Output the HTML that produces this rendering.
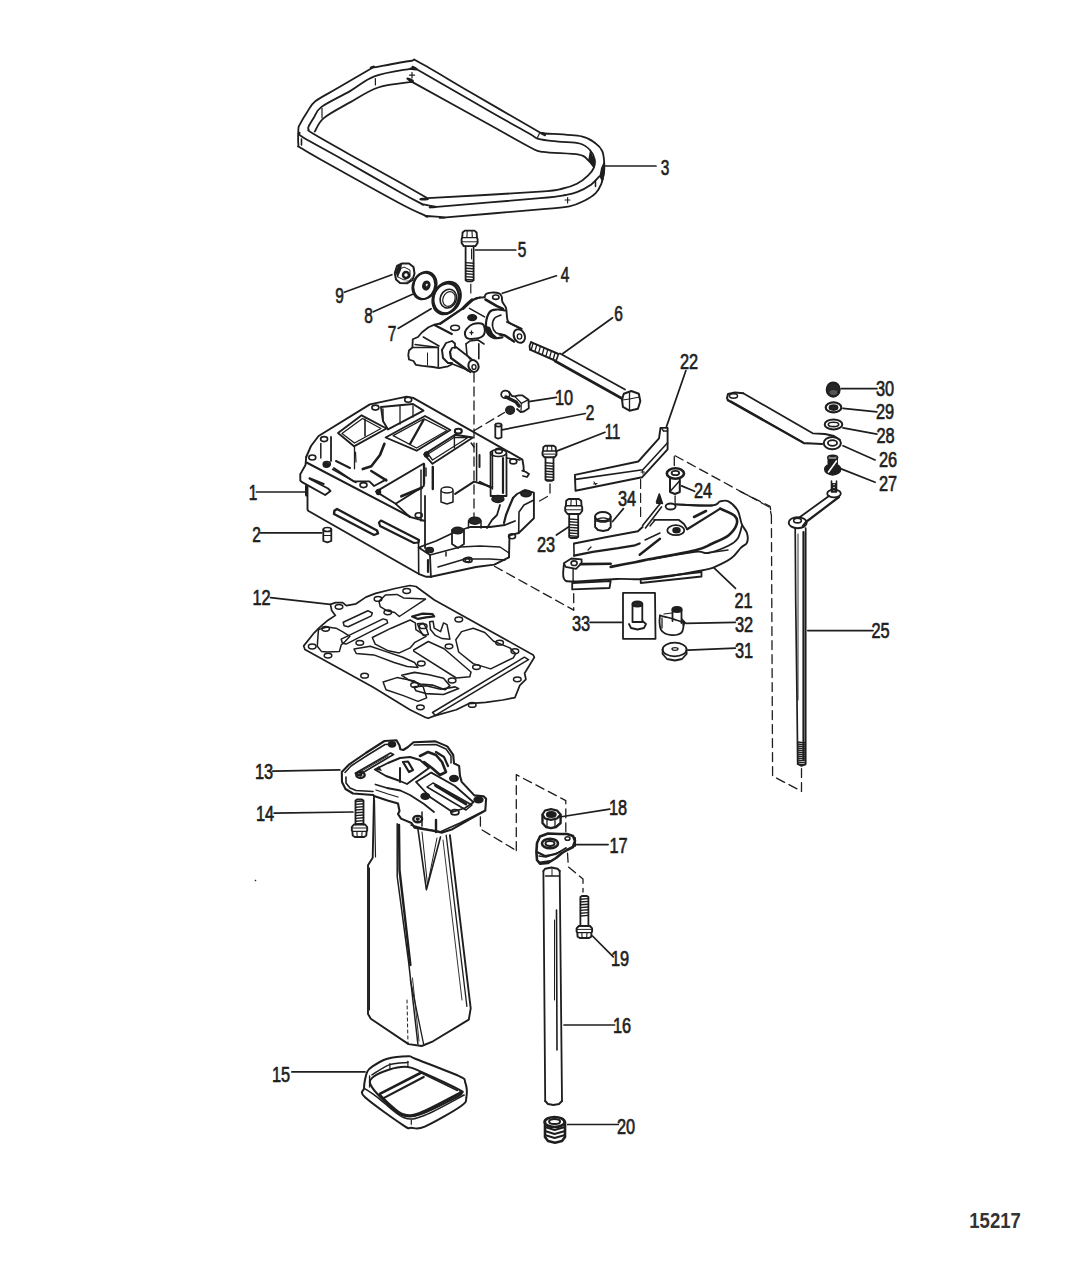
<!DOCTYPE html>
<html><head><meta charset="utf-8"><style>
html,body{margin:0;padding:0;background:#fff;}
svg{display:block;}
text.b{font-weight:bold;fill:#333;stroke:none;}
text{font-family:"Liberation Sans",sans-serif;font-weight:normal;fill:#1e1e1e;stroke:#1e1e1e;stroke-width:0.7px;}
</style></head><body>
<svg width="1066" height="1275" viewBox="0 0 1066 1275">
<g fill="none" stroke="#1e1e1e" stroke-linejoin="round" stroke-linecap="round">
<path d="M410.0,61.0 C417.8,60.1 409.5,57.3 419.5,62.5 C429.5,67.7 449.9,80.3 470.0,92.0 C490.1,103.7 528.3,125.8 540.0,132.5 C551.7,139.2 539.2,132.3 540.0,132.5 C540.8,132.7 544.2,133.3 545.0,133.5 C545.8,133.7 538.9,133.0 545.0,133.5 C551.1,134.0 573.1,134.7 581.6,136.4 C590.1,138.1 592.3,141.1 595.7,143.5 C599.1,145.9 600.8,148.0 602.2,151.0 C603.6,154.0 603.8,157.7 604.1,161.3 C604.4,164.9 604.5,168.8 604.0,172.5 C603.5,176.2 602.7,180.4 601.3,183.8 C599.9,187.2 598.5,190.4 595.7,193.2 C592.9,196.0 588.8,198.5 584.4,200.7 C580.0,202.9 576.8,204.9 569.4,206.3 C562.0,207.8 560.6,207.6 540.0,209.4 C519.4,211.2 461.7,216.0 446.0,217.3 C430.3,218.6 449.3,217.5 446.0,217.3 C442.7,217.1 429.6,216.2 426.3,216.0 C423.0,215.8 430.7,218.1 426.3,216.0 C421.9,213.9 417.5,212.8 400.0,203.5 C382.5,194.2 338.1,169.3 321.5,160.0 C304.9,150.7 304.0,149.9 300.1,147.4 C296.2,144.9 298.7,148.1 298.4,145.1 C298.1,142.1 298.2,132.8 298.4,129.4 C298.6,126.0 298.2,127.7 299.6,124.9 C301.0,122.1 304.3,116.4 306.9,112.5 C309.5,108.6 310.2,105.3 315.3,101.3 C320.4,97.3 327.8,93.9 337.3,88.3 C346.8,82.7 366.6,71.2 372.5,67.8 C378.4,64.4 366.2,68.9 372.5,67.8 C378.8,66.7 402.2,61.9 410.0,61.0 Z" stroke-width="1.8" />
<path d="M410.0,68.8 C415.9,67.5 408.7,68.6 410.0,68.8 C411.3,69.0 416.3,69.5 417.6,69.7 C418.9,69.9 405.5,62.7 417.6,69.7 C429.7,76.7 471.3,100.8 490.0,111.5 C508.7,122.2 521.9,129.4 530.0,134.0 C538.1,138.6 533.7,137.5 538.4,138.8 C543.1,140.1 551.2,140.8 558.1,141.6 C565.0,142.4 574.4,142.1 579.7,143.5 C585.0,144.9 587.5,147.3 590.0,150.0 C592.5,152.7 594.1,156.4 594.7,159.4 C595.3,162.4 594.9,165.2 593.8,167.8 C592.7,170.5 591.0,172.6 588.2,175.3 C585.4,178.0 581.1,181.6 576.9,183.8 C572.7,186.0 568.9,187.2 562.8,188.5 C556.6,189.8 562.5,190.1 540.0,191.7 C517.5,193.3 446.3,197.1 427.6,198.2 C408.9,199.3 432.2,200.8 427.6,198.2 C423.0,195.6 412.9,189.8 400.0,182.5 C387.1,175.2 364.6,162.9 350.0,154.7 C335.4,146.5 319.4,137.5 312.5,133.3 C305.6,129.1 309.2,130.5 308.6,129.4 C308.0,128.3 307.8,128.5 308.6,126.6 C309.4,124.7 311.5,121.4 313.6,118.1 C315.8,114.8 315.4,111.4 321.5,106.9 C327.6,102.4 341.2,96.2 350.0,91.1 C358.8,86.0 364.4,80.0 374.4,76.3 C384.4,72.6 404.1,70.0 410.0,68.8 Z" stroke-width="1.8" />
<path d="M314.8,131.6 C316.3,129.3 317.9,123.0 323.8,118.1 C329.7,113.2 340.9,107.5 350.0,102.4 C359.1,97.3 367.9,90.9 378.2,87.5 C388.5,84.1 406.4,82.8 412.0,81.9 C417.6,81.0 399.0,74.7 412.0,81.9 C425.0,89.1 470.3,114.1 490.0,125.0 C509.7,135.9 521.1,142.7 530.0,147.2 C538.9,151.7 535.0,150.7 543.1,151.9 C551.2,153.2 571.3,153.3 578.8,154.7 C586.3,156.1 585.7,158.3 588.2,160.3 C590.7,162.3 592.9,165.8 593.8,166.9" stroke-width="1.8" />
<path d="M599.4,176.3 C598.0,177.7 594.8,182.0 591.0,184.7 C587.2,187.3 581.1,190.5 576.9,192.2 C572.7,193.9 571.8,194.0 565.6,195.0 C559.5,196.0 561.5,196.2 540.0,198.2 C518.5,200.2 454.0,205.4 436.8,206.8 C419.6,208.2 439.2,207.2 436.8,206.8 C434.4,206.4 424.7,204.6 422.3,204.1 C419.9,203.6 426.0,206.1 422.3,204.1 C418.6,202.1 413.1,199.7 400.0,192.3 C386.9,185.0 359.7,169.2 343.5,160.0 C327.3,150.8 310.2,141.8 302.9,137.3 C295.6,132.8 300.2,133.6 299.6,132.8" stroke-width="1.8" />
<line x1="322" y1="108" x2="322" y2="118" stroke-width="1.2" />
<path d="M604.1,161.3 L605.0,172.5 L602.5,183.0 L599.4,176.3 L601.0,168.0 Z" stroke="none" fill="#1e1e1e"/>
<path d="M590.0,150.0 L594.7,159.4 L593.8,167.8 L588.2,160.3 Z" stroke="none" fill="#1e1e1e"/>
<line x1="605" y1="166" x2="656" y2="166" stroke-width="1.7" />
<text x="660.7" y="174.8" font-size="22.3" textLength="8.6" lengthAdjust="spacingAndGlyphs">3</text>
<text x="517.7" y="256.8" font-size="22.3" textLength="8.6" lengthAdjust="spacingAndGlyphs">5</text>
<text x="560.7" y="282.0" font-size="22.3" textLength="8.6" lengthAdjust="spacingAndGlyphs">4</text>
<text x="335.2" y="303.3" font-size="22.3" textLength="8.6" lengthAdjust="spacingAndGlyphs">9</text>
<text x="364.2" y="322.8" font-size="22.3" textLength="8.6" lengthAdjust="spacingAndGlyphs">8</text>
<text x="387.7" y="341.3" font-size="22.3" textLength="8.6" lengthAdjust="spacingAndGlyphs">7</text>
<text x="614.2" y="320.8" font-size="22.3" textLength="8.6" lengthAdjust="spacingAndGlyphs">6</text>
<text x="554.9" y="404.8" font-size="22.3" textLength="18.2" lengthAdjust="spacingAndGlyphs">10</text>
<text x="585.7" y="420.3" font-size="22.3" textLength="8.6" lengthAdjust="spacingAndGlyphs">2</text>
<text x="604.85" y="439.2" font-size="22.3" textLength="15.5" lengthAdjust="spacingAndGlyphs">11</text>
<text x="679.9" y="368.8" font-size="22.3" textLength="18.2" lengthAdjust="spacingAndGlyphs">22</text>
<text x="875.9" y="395.8" font-size="22.3" textLength="18.2" lengthAdjust="spacingAndGlyphs">30</text>
<text x="875.9" y="419.3" font-size="22.3" textLength="18.2" lengthAdjust="spacingAndGlyphs">29</text>
<text x="876.4" y="442.8" font-size="22.3" textLength="18.2" lengthAdjust="spacingAndGlyphs">28</text>
<text x="878.9" y="466.8" font-size="22.3" textLength="18.2" lengthAdjust="spacingAndGlyphs">26</text>
<text x="878.9" y="490.8" font-size="22.3" textLength="18.2" lengthAdjust="spacingAndGlyphs">27</text>
<text x="693.9" y="497.8" font-size="22.3" textLength="18.2" lengthAdjust="spacingAndGlyphs">24</text>
<text x="617.9" y="505.8" font-size="22.3" textLength="18.2" lengthAdjust="spacingAndGlyphs">34</text>
<text x="248.7" y="500.3" font-size="22.3" textLength="8.6" lengthAdjust="spacingAndGlyphs">1</text>
<text x="536.9" y="551.8" font-size="22.3" textLength="18.2" lengthAdjust="spacingAndGlyphs">23</text>
<text x="252.2" y="541.8" font-size="22.3" textLength="8.6" lengthAdjust="spacingAndGlyphs">2</text>
<text x="734.4" y="608.3" font-size="22.3" textLength="18.2" lengthAdjust="spacingAndGlyphs">21</text>
<text x="252.50000000000003" y="604.5" font-size="22.3" textLength="18.2" lengthAdjust="spacingAndGlyphs">12</text>
<text x="571.9" y="630.8" font-size="22.3" textLength="18.2" lengthAdjust="spacingAndGlyphs">33</text>
<text x="734.9" y="631.8" font-size="22.3" textLength="18.2" lengthAdjust="spacingAndGlyphs">32</text>
<text x="734.9" y="657.8" font-size="22.3" textLength="18.2" lengthAdjust="spacingAndGlyphs">31</text>
<text x="871.4" y="638.3" font-size="22.3" textLength="18.2" lengthAdjust="spacingAndGlyphs">25</text>
<text x="254.9" y="778.8" font-size="22.3" textLength="18.2" lengthAdjust="spacingAndGlyphs">13</text>
<text x="255.9" y="820.8" font-size="22.3" textLength="18.2" lengthAdjust="spacingAndGlyphs">14</text>
<text x="608.9" y="815.3" font-size="22.3" textLength="18.2" lengthAdjust="spacingAndGlyphs">18</text>
<text x="609.4" y="853.3" font-size="22.3" textLength="18.2" lengthAdjust="spacingAndGlyphs">17</text>
<text x="610.9" y="966.3" font-size="22.3" textLength="18.2" lengthAdjust="spacingAndGlyphs">19</text>
<text x="612.9" y="1032.8" font-size="22.3" textLength="18.2" lengthAdjust="spacingAndGlyphs">16</text>
<text x="271.9" y="1081.8" font-size="22.3" textLength="18.2" lengthAdjust="spacingAndGlyphs">15</text>
<text x="616.9" y="1133.8" font-size="22.3" textLength="18.2" lengthAdjust="spacingAndGlyphs">20</text>
<text class="b" x="969.3" y="1227.8" font-size="22.6" textLength="51.5" lengthAdjust="spacingAndGlyphs">15217</text>
<path d="M464.8,230.6 L474.4,230.6 L476.6,232.5 L477.0,237.6 L477.6,239.1 L477.6,243.0 L475.4,246.1 L463.8,246.1 L461.6,243.0 L461.6,239.1 L462.2,237.6 L462.6,232.5 Z" stroke-width="1.9"/>
<path d="M462.2,237.6 L477.0,237.6" stroke-width="1.4"/>
<path d="M467.2,230.9 L466.9,237.4 M472.0,230.9 L472.3,237.4" stroke-width="1.1"/>
<path d="M462.4,241.8 L476.8,241.8" stroke-width="1.0"/>
<path d="M465.6,246.1 L465.6,280.3 L467.1,281.3 L472.1,281.3 L473.6,280.3 L473.6,246.1" stroke-width="1.8"/>
<path d="M465.6,262.6 L473.6,263.2" stroke-width="1.4"/>
<path d="M465.6,265.4 L473.6,266.0" stroke-width="1.4"/>
<path d="M465.6,268.2 L473.6,268.8" stroke-width="1.4"/>
<path d="M465.6,271.0 L473.6,271.6" stroke-width="1.4"/>
<path d="M465.6,273.8 L473.6,274.4" stroke-width="1.4"/>
<path d="M465.6,276.6 L473.6,277.2" stroke-width="1.4"/>
<path d="M465.6,279.4 L473.6,280.0" stroke-width="1.4"/>
<line x1="471.5" y1="249" x2="471.5" y2="259" stroke-width="1.0" />
<path d="M470.8,284.0 L470.8,298.0" stroke-width="1.2" stroke-dasharray="9 5"/>
<line x1="475.5" y1="250" x2="515.8" y2="250" stroke-width="1.7" />
<path d="M397.0,266.0 L402.0,263.5 L409.0,263.5 L413.5,267.0 L414.5,273.5 L412.5,280.0 L407.0,283.3 L400.0,283.0 L396.0,279.5 L394.8,273.0 Z" stroke-width="2.0" />
<path d="M398.0,270.0 L404.0,267.0 L410.0,270.0 L410.0,277.0 L404.0,280.0 L398.0,277.0 Z" stroke-width="1.0" />
<ellipse cx="406" cy="275" rx="3" ry="3" stroke-width="2.5" fill="none"/>
<path d="M395.5,272.0 L398.0,266.0 L402.0,264.5 L401.0,270.0 L397.5,278.0 Z" stroke="none" fill="#1e1e1e"/>
<path d="M404.0,281.0 L409.0,280.5 L412.0,277.0 L411.0,282.0 Z" stroke="none" fill="#1e1e1e"/>
<line x1="344.4" y1="292.2" x2="391.9" y2="274.7" stroke-width="1.7" />
<ellipse cx="425" cy="285.3" rx="11.3" ry="13.8" stroke-width="1.9" fill="none" transform="rotate(20 425 285.3)"/>
<ellipse cx="423.8" cy="286" rx="11" ry="13.6" stroke-width="2.0" fill="none" transform="rotate(20 423.8 286)"/>
<ellipse cx="426.3" cy="285.5" rx="3.4" ry="4.4" stroke-width="1.5" fill="#1e1e1e" transform="rotate(20 426.3 285.5)"/>
<ellipse cx="426.8" cy="285" rx="1.2" ry="1.5" stroke-width="0.5" fill="#fff" transform="rotate(20 426.8 285)"/>
<line x1="373.3" y1="311.8" x2="412.6" y2="294.3" stroke-width="1.7" />
<ellipse cx="447.2" cy="297.5" rx="13.2" ry="16.2" stroke-width="2.0" fill="none" transform="rotate(22 447.2 297.5)"/>
<ellipse cx="445.8" cy="298.6" rx="12.6" ry="15.8" stroke-width="2.6" fill="none" transform="rotate(22 445.8 298.6)"/>
<ellipse cx="448.3" cy="298.6" rx="8.0" ry="9.6" stroke-width="1.6" fill="none" transform="rotate(22 448.3 298.6)"/>
<ellipse cx="449" cy="299" rx="6" ry="7.5" stroke-width="1.2" fill="none" transform="rotate(22 449 299)"/>
<line x1="398.1" y1="328.4" x2="431.1" y2="308.8" stroke-width="1.7" />
<path d="M480.0,297.3 L472.0,300.3 L464.5,307.0 L439.8,323.5 L434.5,324.6 L428.5,327.3 L421.8,332.5 L418.0,337.0 L412.8,339.3 L412.4,347.5 L409.0,350.5 L408.3,355.0 L409.0,359.5 L413.5,361.0 L415.8,364.8 L422.5,365.9 L433.0,367.0 L439.0,368.2 L448.0,366.3 L452.5,364.0 L460.0,367.0 L467.5,370.0 L470.5,372.3" stroke-width="1.8" />
<path d="M412.8,347.5 L438.3,347.5 L438.3,367.0" stroke-width="1.6" />
<path d="M415.0,344.5 L438.3,347.5" stroke-width="1.3" />
<line x1="423.3" y1="337" x2="439" y2="346" stroke-width="1.6" />
<line x1="434.5" y1="325" x2="451.8" y2="334" stroke-width="2.2" />
<line x1="427.5" y1="353" x2="427.5" y2="365" stroke-width="1.0" />
<ellipse cx="455.1" cy="327.8" rx="4.4" ry="2.6" stroke-width="1.6" fill="none"/>
<path d="M442.0,350.0 L446.0,343.0 L452.0,341.0 L455.0,343.5 L455.0,348.0" stroke-width="1.8" />
<path d="M442.0,350.0 L443.0,358.0 L448.0,363.0 L452.0,363.0" stroke-width="2.0" />
<path d="M450.0,352.0 L452.0,348.0 L456.0,347.0 L472.0,359.5" stroke-width="1.8" />
<path d="M450.0,352.0 L451.0,358.0 L455.0,361.0 L468.0,370.5" stroke-width="2.2" />
<ellipse cx="473.5" cy="366" rx="5" ry="6" stroke-width="2.0" fill="none" transform="rotate(-20 473.5 366)"/>
<ellipse cx="474" cy="367" rx="2" ry="2.4" stroke-width="1.4" fill="none"/>
<path d="M440.0,324.1 L463.0,308.4 L471.5,300.5 L476.8,297.9 L484.6,297.2" stroke-width="1.9" />
<path d="M463.0,308.4 L468.0,303.5 L472.0,300.0" stroke-width="3.2" />
<path d="M484.6,297.2 C484.8,296.7 484.9,294.8 486.0,294.0 C487.1,293.2 489.0,292.7 491.2,292.6 C493.4,292.5 497.4,292.6 499.1,293.3 C500.9,294.0 501.1,295.2 501.7,296.6 C502.2,298.0 501.7,300.1 502.4,301.8 C503.1,303.6 505.0,305.5 505.7,307.1 C506.4,308.7 506.2,309.5 506.5,311.5 C506.8,313.5 506.8,317.1 507.3,319.0 C507.8,320.9 507.1,321.2 509.5,322.8 C511.9,324.4 519.5,327.8 521.5,328.8" stroke-width="1.9" />
<path d="M485.5,299.5 L496.5,305.8 L503.0,309.0" stroke-width="2.6" />
<ellipse cx="495.8" cy="297.2" rx="3.2" ry="2.2" stroke-width="1.6" fill="none"/>
<line x1="469.5" y1="308.4" x2="484.6" y2="316.9" stroke-width="1.6" />
<ellipse cx="472.2" cy="317.6" rx="4.4" ry="2.9" stroke-width="1.4" fill="#1e1e1e"/>
<path d="M505.0,310.5 C503.7,310.3 499.5,309.3 497.0,309.5 C494.5,309.7 491.7,309.5 489.9,311.7 C488.1,313.9 486.4,319.3 486.0,322.8 C485.6,326.3 486.0,330.2 487.3,332.7 C488.6,335.2 491.3,337.1 493.8,337.9 C496.3,338.7 501.0,337.4 502.4,337.3" stroke-width="2.2" />
<path d="M501.0,315.0 C499.9,315.5 495.9,316.4 494.5,318.2 C493.1,320.0 492.3,323.6 492.5,326.0 C492.7,328.4 494.2,331.3 495.8,332.7 C497.4,334.1 501.3,334.3 502.4,334.6" stroke-width="1.6" />
<path d="M486.5,326.0 L487.3,332.7 L493.8,337.9 L498.0,338.0 L493.0,333.5 L490.0,327.0 Z" stroke="none" fill="#1e1e1e"/>
<path d="M507.0,322.0 L521.5,328.8" stroke-width="1.9" />
<path d="M500.0,334.5 L505.0,335.5 L514.0,341.5" stroke-width="2.6" />
<ellipse cx="519.3" cy="336" rx="5.4" ry="7.0" stroke-width="2.0" fill="none" transform="rotate(-25 519.3 336)"/>
<ellipse cx="519.5" cy="336.5" rx="2.2" ry="2.6" stroke-width="1.4" fill="none"/>
<path d="M466.3,329.4 C467.6,327.6 470.1,325.0 472.8,324.1 C475.5,323.2 480.7,322.7 482.7,324.1 C484.7,325.5 485.2,330.4 484.6,332.7 C484.1,335.0 482.1,336.9 479.4,337.9 C476.7,338.9 470.6,339.2 468.2,338.6 C465.8,338.1 465.3,336.1 465.0,334.6 C464.7,333.1 465.0,331.1 466.3,329.4 Z" stroke-width="2.0" />
<line x1="470" y1="332.7" x2="473" y2="332.7" stroke-width="1.3" />
<line x1="471.5" y1="331" x2="471.5" y2="334.5" stroke-width="1.3" />
<path d="M466.0,343.8 L470.0,341.0 L478.0,340.0 L484.0,344.0" stroke-width="1.6" />
<path d="M466.0,344.0 L467.0,355.0 L470.0,359.0" stroke-width="1.6" />
<path d="M478.8,343.8 L478.8,358.8" stroke-width="1.6" />
<line x1="502.3" y1="293.3" x2="556.4" y2="275.8" stroke-width="1.7" />
<path d="M474.0,373.0 L474.0,520.0" stroke-width="1.3" stroke-dasharray="9 5"/>
<path d="M531.0,342.2 L529.5,346.0 L530.0,349.7" stroke-width="1.8" />
<path d="M531.0,342.2 L558.5,354.0" stroke-width="2.0" />
<path d="M530.0,349.7 L556.0,361.0" stroke-width="2.0" />
<line x1="533.0" y1="343.5" x2="531.2" y2="350.0" stroke-width="1.3" />
<line x1="536.6666666666666" y1="345.0833333333333" x2="534.8666666666667" y2="351.5833333333333" stroke-width="1.3" />
<line x1="540.3333333333334" y1="346.6666666666667" x2="538.5333333333334" y2="353.1666666666667" stroke-width="1.3" />
<line x1="544.0" y1="348.25" x2="542.2" y2="354.75" stroke-width="1.3" />
<line x1="547.6666666666666" y1="349.8333333333333" x2="545.8666666666667" y2="356.3333333333333" stroke-width="1.3" />
<line x1="551.3333333333334" y1="351.4166666666667" x2="549.5333333333334" y2="357.9166666666667" stroke-width="1.3" />
<line x1="555.0" y1="353.0" x2="553.2" y2="359.5" stroke-width="1.3" />
<path d="M558.5,354.0 L556.0,361.0" stroke-width="1.6" />
<line x1="560" y1="353.5" x2="625" y2="389.5" stroke-width="1.8" />
<line x1="555" y1="361" x2="622" y2="398.5" stroke-width="2.6" />
<path d="M623.8,393.8 L631.3,391.0 L638.8,393.8 L640.3,401.3 L637.9,408.8 L629.5,410.7 L622.9,406.9 L622.0,399.4 Z" stroke-width="2.0" />
<line x1="629.5" y1="392" x2="629.5" y2="410.5" stroke-width="1.3" />
<line x1="622.5" y1="400" x2="629.5" y2="399" stroke-width="1.1" />
<line x1="629.5" y1="399" x2="639.5" y2="397" stroke-width="1.1" />
<line x1="562.9" y1="353.5" x2="612.6" y2="317.8" stroke-width="1.7" />
<ellipse cx="505.5" cy="394.4" rx="4.3" ry="3.8" stroke-width="1.8" fill="none"/>
<path d="M509.0,392.0 L512.0,396.0 L514.7,396.4 L518.6,395.4 L522.6,395.4 L528.5,399.7 L528.8,408.2 L523.9,411.5 L520.6,412.2 L517.0,409.0" stroke-width="1.8" />
<path d="M514.7,396.4 L521.3,403.3 L528.5,399.7" stroke-width="1.3" />
<line x1="521.3" y1="403.3" x2="521" y2="411.5" stroke-width="1.2" />
<path d="M506.0,397.0 L510.0,399.0 L516.0,402.0 L519.0,406.0" stroke-width="3.5" />
<ellipse cx="510.1" cy="410.2" rx="4.3" ry="4.0" stroke-width="1.5" fill="#262626"/>
<path d="M474.0,430.7 L504.5,412.5" stroke-width="1.3" stroke-dasharray="9 5"/>
<line x1="528.8" y1="401.7" x2="556.4" y2="397.4" stroke-width="1.7" />
<path d="M495.3,425.0 L495.3,437.5 L498.0,438.6 L501.5,437.5 L501.5,425.0" stroke-width="1.8" />
<ellipse cx="498.4" cy="425" rx="3.1" ry="1.6" stroke-width="1.7" fill="none"/>
<line x1="501.9" y1="429.9" x2="585.4" y2="413.5" stroke-width="1.7" />
<path d="M323.3,529.5 L323.3,541.0 L327.3,542.4 L331.3,541.0 L331.3,529.5" stroke-width="1.8" />
<ellipse cx="327.3" cy="529.5" rx="4" ry="2" stroke-width="1.7" fill="none"/>
<line x1="323.6" y1="535.5" x2="331" y2="535.5" stroke-width="1.0" />
<line x1="260.6" y1="532.9" x2="321.6" y2="532.9" stroke-width="1.7" />
<path d="M306.2,457.0 L311.0,446.0 L318.6,436.0 L369.9,404.4 L406.6,396.6 L413.2,397.9 L522.4,459.6 L523.5,466.0 L523.8,471.0" stroke-width="1.9" />
<path d="M306.2,457.0 L305.5,465.0 L301.6,471.9 L300.3,474.0 L300.3,480.5 L301.6,481.8 L325.2,495.0 L330.5,491.0 L328.0,488.5 L310.0,479.0" stroke-width="1.9" />
<line x1="309.5" y1="478.3" x2="323.6" y2="483.9" stroke-width="2.2" />
<line x1="332.6" y1="469.3" x2="356" y2="482.5" stroke-width="1.6" />
<ellipse cx="326.4" cy="465" rx="3" ry="2.2" stroke-width="1.4" fill="#1e1e1e"/>
<path d="M307.5,487.0 L307.5,509.4 L308.1,510.7 L418.5,573.8 L426.3,576.8 L430.9,576.8" stroke-width="1.9" />
<line x1="306.5" y1="486" x2="306.5" y2="495" stroke-width="3.0" />
<line x1="306.5" y1="462.5" x2="409.7" y2="516.5" stroke-width="2.0" />
<line x1="409.7" y1="516.9" x2="425" y2="521" stroke-width="1.9" />
<line x1="395.7" y1="503.8" x2="409.7" y2="516.9" stroke-width="1.8" />
<path d="M334.4,510.7 L337.0,509.0 L377.0,530.5 L378.0,533.5 L374.0,535.0 L334.0,514.0 Z" stroke-width="2.4" />
<path d="M379.0,522.5 L381.0,520.5 L419.0,540.0 L418.5,542.5 L414.0,543.0 L380.0,526.0 Z" stroke-width="2.2" />
<line x1="418.5" y1="540" x2="418.7" y2="574" stroke-width="1.6" />
<line x1="425" y1="496" x2="425" y2="548" stroke-width="1.8" />
<path d="M338.0,433.0 L361.6,415.3 L386.5,428.5 L354.0,446.3 Z" stroke-width="1.9" />
<path d="M342.0,433.5 L362.5,418.5 L381.0,428.5 L354.5,443.0 Z" stroke-width="1.3" />
<line x1="331" y1="437" x2="331" y2="461" stroke-width="1.8" />
<line x1="320.8" y1="443.4" x2="320.8" y2="458" stroke-width="1.5" />
<line x1="354.5" y1="447" x2="354.5" y2="468.8" stroke-width="1.3" />
<line x1="365" y1="419" x2="365" y2="436" stroke-width="1.6" />
<path d="M384.4,443.8 L380.0,455.0 L371.3,466.3 L362.8,469.1" stroke-width="2.6" />
<path d="M371.3,471.0 L386.3,480.3" stroke-width="2.6" />
<line x1="336" y1="461" x2="350" y2="468" stroke-width="2.0" />
<line x1="355.5" y1="452" x2="356" y2="462" stroke-width="1.2" />
<path d="M381.0,407.0 L413.0,404.0 L423.5,410.6 L388.0,429.4 L383.0,421.0 Z" stroke-width="1.9" />
<line x1="383" y1="409" x2="383" y2="421" stroke-width="1.4" />
<line x1="400" y1="406" x2="400" y2="424" stroke-width="1.3" />
<line x1="413" y1="406" x2="413" y2="417" stroke-width="1.3" />
<path d="M385.6,437.5 L425.0,416.0 L450.4,430.0 L416.6,450.7 Z" stroke-width="1.9" />
<path d="M393.1,435.6 L424.1,418.8 L447.0,430.5 L416.6,448.0 Z" stroke-width="1.3" />
<line x1="423.5" y1="420" x2="410" y2="444" stroke-width="2.4" />
<path d="M424.1,454.4 L455.0,434.7 L472.9,437.5 L432.5,463.8 Z" stroke-width="1.9" />
<path d="M428.0,454.0 L454.0,437.5 L468.0,437.5 L432.5,460.0 Z" stroke-width="1.3" />
<ellipse cx="426.5" cy="454.5" rx="2" ry="2.5" stroke-width="1.5" fill="#1e1e1e"/>
<path d="M376.0,491.6 L423.8,463.5 L423.8,486.0 L395.7,503.8 Z" stroke-width="1.9" />
<ellipse cx="378.5" cy="492" rx="2" ry="2.5" stroke-width="1.5" fill="#1e1e1e"/>
<line x1="401.3" y1="496.3" x2="421.9" y2="487.8" stroke-width="2.6" />
<path d="M333.8,468.1 L353.5,481.3 L369.4,481.3 L374.1,486.0 L386.3,479.4" stroke-width="1.8" />
<line x1="471.2" y1="443" x2="474" y2="447" stroke-width="1.5" />
<line x1="474" y1="481.7" x2="490.6" y2="486.6" stroke-width="1.8" />
<line x1="474" y1="481.7" x2="455.2" y2="493.9" stroke-width="2.0" />
<line x1="421" y1="470" x2="421" y2="521" stroke-width="1.5" />
<line x1="426" y1="468" x2="426" y2="476" stroke-width="1.5" />
<path d="M490.6,452.0 L490.6,496.0 L506.5,496.0 L506.5,454.0" stroke-width="1.8" />
<ellipse cx="498.5" cy="453" rx="8" ry="3.5" stroke-width="1.7" fill="none"/>
<line x1="503" y1="458" x2="503" y2="493" stroke-width="2.2" />
<ellipse cx="497.9" cy="499" rx="6" ry="3.5" stroke-width="1.5" fill="#262626"/>
<path d="M506.5,458.0 L520.0,460.0" stroke-width="1.5" />
<path d="M522.3,470.7 L526.0,472.0 L529.0,474.0 L527.0,477.0 L523.0,476.0" stroke-width="1.8" />
<path d="M509.0,557.3 L509.5,535.4 L518.7,533.0 L533.9,518.3 L533.9,492.7 L524.8,490.2 L517.0,494.0 L513.0,498.0" stroke-width="1.9" />
<ellipse cx="526" cy="493.5" rx="5" ry="3" stroke-width="2.0" fill="#262626"/>
<path d="M518.7,533.0 L519.0,512.0 L524.0,505.0 L533.9,500.0" stroke-width="1.6" />
<path d="M500.0,505.0 L497.0,515.0 L492.0,520.0 L487.0,528.0" stroke-width="1.8" />
<path d="M513.0,498.0 L510.0,505.0 L506.0,515.0 L504.0,523.0" stroke-width="2.2" />
<path d="M418.7,547.6 L425.0,545.0 L436.0,541.0 L455.0,532.0 L470.0,527.0 L490.0,527.0 L505.0,525.0 L515.0,521.0" stroke-width="1.8" />
<path d="M430.9,576.8 L476.0,567.0 L494.3,564.6 L508.9,557.3" stroke-width="1.9" />
<path d="M418.7,547.6 L430.0,555.0 L430.9,576.8" stroke-width="1.8" />
<path d="M430.0,555.0 L460.0,547.0 L480.0,546.0 L500.0,547.0 L509.0,553.0" stroke-width="1.5" />
<path d="M438.0,567.0 L465.0,559.0 L490.0,559.0 L505.0,560.0" stroke-width="1.5" />
<ellipse cx="466.5" cy="560" rx="3.3" ry="2.0" stroke-width="1.5" fill="none"/>
<line x1="428" y1="560" x2="428" y2="572" stroke-width="2.2" />
<line x1="446" y1="552" x2="446" y2="556" stroke-width="1.5" />
<ellipse cx="429.6" cy="550" rx="3.8" ry="2.6" stroke-width="1.5" fill="#262626"/>
<path d="M452.0,530.0 L452.0,544.0 L458.0,548.0 L464.0,544.0 L464.0,530.0" stroke-width="1.8" />
<ellipse cx="457.7" cy="530.5" rx="5.5" ry="3.2" stroke-width="1.5" fill="#262626"/>
<path d="M468.5,521.0 L468.5,528.0" stroke-width="1.5" />
<path d="M481.0,521.0 L481.0,528.0" stroke-width="1.5" />
<ellipse cx="474.8" cy="520.7" rx="6" ry="3.5" stroke-width="1.5" fill="#262626"/>
<path d="M441.0,491.0 L441.0,502.0 L447.0,504.0 L453.0,502.0 L453.0,491.0" stroke-width="1.5" />
<ellipse cx="447" cy="490" rx="6" ry="3" stroke-width="1.5" fill="none"/>
<ellipse cx="312.3" cy="457.5" rx="3.5" ry="2.5" stroke-width="1.6" fill="none"/>
<ellipse cx="324.1" cy="439.1" rx="3.5" ry="2.5" stroke-width="1.6" fill="none"/>
<ellipse cx="375.4" cy="407.6" rx="3.5" ry="2.5" stroke-width="1.6" fill="none"/>
<ellipse cx="408.2" cy="399.7" rx="3.5" ry="2.5" stroke-width="1.6" fill="none"/>
<ellipse cx="458.1" cy="431.2" rx="3.5" ry="2.5" stroke-width="1.6" fill="none"/>
<ellipse cx="498.8" cy="450.9" rx="3.5" ry="2.5" stroke-width="1.6" fill="none"/>
<ellipse cx="513.3" cy="461.4" rx="3.5" ry="2.5" stroke-width="1.6" fill="none"/>
<ellipse cx="363.5" cy="485.1" rx="3.5" ry="2.5" stroke-width="1.6" fill="none"/>
<ellipse cx="418.7" cy="515.3" rx="3.5" ry="2.5" stroke-width="1.6" fill="none"/>
<ellipse cx="326.8" cy="464" rx="3.5" ry="2.5" stroke-width="1.6" fill="none"/>
<ellipse cx="468.6" cy="559.9" rx="3.5" ry="2.5" stroke-width="1.6" fill="none"/>
<ellipse cx="512" cy="536.3" rx="3.5" ry="2.5" stroke-width="1.6" fill="none"/>
<line x1="256.4" y1="492" x2="305.7" y2="492" stroke-width="1.7" />
<path d="M545.3,445.8 L553.7,445.8 L555.7,447.2 L555.9,451.0 L556.5,452.1 L556.5,455.0 L554.5,457.3 L544.5,457.3 L542.5,455.0 L542.5,452.1 L543.1,451.0 L543.3,447.2 Z" stroke-width="1.9"/>
<path d="M543.1,451.0 L555.9,451.0" stroke-width="1.4"/>
<path d="M547.4,446.0 L547.1,450.9 M551.6,446.0 L551.9,450.9" stroke-width="1.1"/>
<path d="M543.2,454.1 L555.8,454.1" stroke-width="1.0"/>
<path d="M545.5,457.3 L545.5,479.8 L547.0,480.8 L552.0,480.8 L553.5,479.8 L553.5,457.3" stroke-width="1.8"/>
<path d="M545.5,462.8 L553.5,463.4" stroke-width="1.4"/>
<path d="M545.5,465.6 L553.5,466.2" stroke-width="1.4"/>
<path d="M545.5,468.4 L553.5,469.0" stroke-width="1.4"/>
<path d="M545.5,471.2 L553.5,471.8" stroke-width="1.4"/>
<path d="M545.5,474.0 L553.5,474.6" stroke-width="1.4"/>
<path d="M545.5,476.8 L553.5,477.4" stroke-width="1.4"/>
<path d="M545.5,479.6 L553.5,480.2" stroke-width="1.4"/>
<path d="M550.0,484.0 L550.0,495.0 L536.0,503.0" stroke-width="1.3" stroke-dasharray="9 5"/>
<line x1="556" y1="451.4" x2="605" y2="432.3" stroke-width="1.7" />
<path d="M660.5,427.9 L667.6,427.9 L667.6,449.3 L642.0,477.3 L575.5,490.7 L574.9,474.9 L638.3,461.5 L659.0,438.3 L660.5,427.9 Z" stroke-width="1.9" />
<path d="M575.5,479.4 L642.8,469.7 L667.6,442.8" stroke-width="1.6" />
<line x1="661.1" y1="427.7" x2="663.5" y2="431" stroke-width="1.3" />
<line x1="663.5" y1="431" x2="667.6" y2="431" stroke-width="1.3" />
<line x1="594" y1="482" x2="596" y2="485" stroke-width="1.1" />
<line x1="593.5" y1="484" x2="597" y2="483.5" stroke-width="1.1" />
<line x1="642.5" y1="470" x2="643" y2="474" stroke-width="1.1" />
<line x1="641" y1="472" x2="644.5" y2="472" stroke-width="1.1" />
<line x1="685.9" y1="370.5" x2="666.5" y2="426.6" stroke-width="1.7" />
<path d="M640.6,479.4 L640.6,520.0" stroke-width="1.2" stroke-dasharray="9 5"/>
<ellipse cx="675.4" cy="473.5" rx="8.6" ry="5.2" stroke-width="2.6" fill="none"/>
<ellipse cx="675.4" cy="473" rx="3.8" ry="2.2" stroke-width="1.8" fill="none"/>
<path d="M670.0,478.5 L670.0,492.0 L675.0,494.0 L679.8,492.0 L679.8,478.5" stroke-width="2.0" />
<line x1="670.5" y1="491" x2="679.5" y2="481" stroke-width="1.5" />
<line x1="681.6" y1="485.9" x2="694.6" y2="491.3" stroke-width="1.7" />
<path d="M675.1,496.0 L675.1,508.0" stroke-width="1.3" stroke-dasharray="9 5"/>
<path d="M674.3,456.6 L674.3,466.0" stroke-width="1.3" stroke-dasharray="9 5"/>
<path d="M675.1,455.7 L770.0,507.5 L771.0,514.0" stroke-width="1.3" stroke-dasharray="9 5"/>
<ellipse cx="602.9" cy="516.5" rx="7.8" ry="4.5" stroke-width="1.9" fill="none"/>
<path d="M595.1,516.5 L595.1,527.0 L598.0,530.0 L603.0,531.0 L608.0,530.0 L610.7,527.0 L610.7,516.5" stroke-width="1.9" />
<line x1="595.5" y1="521" x2="610.5" y2="521" stroke-width="1.3" />
<ellipse cx="603" cy="520" rx="5.2" ry="2.2" stroke-width="1.3" fill="none"/>
<line x1="623.4" y1="508.6" x2="612.6" y2="521.5" stroke-width="1.7" />
<path d="M568.6,499.0 L578.8,499.0 L581.2,500.8 L581.5,505.8 L582.2,507.2 L582.2,511.0 L579.8,514.0 L567.6,514.0 L565.2,511.0 L565.2,507.2 L565.9,505.8 L566.2,500.8 Z" stroke-width="1.9"/>
<path d="M565.9,505.8 L581.5,505.8" stroke-width="1.4"/>
<path d="M571.2,499.3 L570.8,505.6 M576.2,499.3 L576.6,505.6" stroke-width="1.1"/>
<path d="M566.1,509.8 L581.4,509.8" stroke-width="1.0"/>
<path d="M569.2,514.0 L569.2,537.0 L570.7,538.0 L576.7,538.0 L578.2,537.0 L578.2,514.0" stroke-width="1.8"/>
<path d="M569.2,519.0 L578.2,519.6" stroke-width="1.4"/>
<path d="M569.2,521.8 L578.2,522.4" stroke-width="1.4"/>
<path d="M569.2,524.6 L578.2,525.2" stroke-width="1.4"/>
<path d="M569.2,527.4 L578.2,528.0" stroke-width="1.4"/>
<path d="M569.2,530.2 L578.2,530.8" stroke-width="1.4"/>
<path d="M569.2,533.0 L578.2,533.6" stroke-width="1.4"/>
<path d="M569.2,535.8 L578.2,536.4" stroke-width="1.4"/>
<line x1="556.4" y1="535" x2="568.8" y2="526.8" stroke-width="1.7" />
<path d="M563.8,565.0 C563.8,567.2 562.2,575.5 563.8,578.2 C565.3,581.0 564.4,581.4 573.1,581.5 C581.9,581.6 603.5,579.5 616.3,579.0 C629.1,578.5 635.8,580.2 650.0,578.8 C664.2,577.4 690.6,572.6 701.6,570.5 C712.6,568.4 711.0,568.5 716.0,566.4 C721.0,564.3 727.4,561.2 731.5,558.1 C735.6,555.0 738.2,550.4 740.8,547.8 C743.4,545.2 746.0,545.0 747.0,542.6 C748.0,540.2 747.9,536.4 747.0,533.3 C746.1,530.2 743.3,527.9 741.8,524.1 C740.2,520.3 739.9,514.4 737.7,510.6 C735.5,506.8 731.3,502.9 728.4,501.4 C725.5,499.9 723.0,500.7 720.2,501.4 C717.5,502.1 719.3,505.0 711.9,505.5 C704.5,506.0 681.8,504.6 675.8,504.4" stroke-width="1.9" />
<path d="M574.1,543.5 L606.9,536.9 L637.9,531.3 L642.6,527.0" stroke-width="2.0" />
<line x1="573.8" y1="543.5" x2="574.1" y2="555.7" stroke-width="1.6" />
<path d="M574.1,555.7 L592.8,551.9 L618.2,548.2 L635.0,545.3 L639.7,543.5" stroke-width="2.2" />
<line x1="588" y1="550" x2="591" y2="547" stroke-width="1.2" />
<path d="M642.6,525.6 L660.3,503.4" stroke-width="1.6" />
<path d="M645.5,528.0 L661.5,507.0" stroke-width="1.6" />
<path d="M656.0,504.0 L659.3,494.1 L663.0,504.0 Z" stroke="none" fill="#1e1e1e"/>
<path d="M656.5,502.0 L659.3,494.1 L662.4,503.4" stroke-width="1.6" />
<ellipse cx="670.6" cy="506.5" rx="5" ry="3" stroke-width="1.8" fill="none"/>
<path d="M563.8,563.2 L571.3,558.5 L581.6,559.4 L581.6,563.2 L576.0,568.8 L565.6,566.9 L563.8,563.2" stroke-width="1.8" />
<ellipse cx="574.1" cy="563.2" rx="3" ry="2.3" stroke-width="1.6" fill="none"/>
<line x1="573.1" y1="568.8" x2="573.1" y2="581.5" stroke-width="1.4" />
<path d="M580.6,564.1 L610.7,563.8" stroke-width="2.6" />
<path d="M610.7,566.9 C614.8,566.1 628.5,563.5 635.0,562.2 C641.5,560.9 639.8,561.2 650.0,559.1 C660.2,557.0 686.1,552.5 696.4,549.9 C706.7,547.3 706.6,546.1 711.9,543.7 C717.2,541.3 724.3,538.7 728.4,535.4 C732.5,532.1 735.7,527.4 736.7,524.1 C737.7,520.8 737.4,518.4 734.6,515.8 C731.9,513.2 722.6,509.8 720.2,508.6" stroke-width="2.6" />
<path d="M639.7,554.7 L660.0,538.8" stroke-width="2.4" />
<path d="M650.0,559.5 C657.6,558.2 685.8,553.0 695.4,551.9 C705.0,550.8 702.3,554.0 707.8,553.0 C713.3,552.0 723.4,548.1 728.4,545.7 C733.4,543.3 735.5,541.8 737.7,538.5 C739.9,535.2 741.1,528.2 741.8,526.1" stroke-width="1.8" />
<path d="M707.0,553.0 L728.0,550.0" stroke-width="1.5" />
<path d="M654.1,519.9 L678.9,519.9 L684.0,524.1 L687.2,529.2" stroke-width="1.9" />
<ellipse cx="675.8" cy="530.2" rx="8.5" ry="5" stroke-width="1.8" fill="none"/>
<ellipse cx="676.5" cy="530.2" rx="3.5" ry="2.5" stroke-width="1.5" fill="#1e1e1e"/>
<path d="M687.2,529.2 L717.1,510.6 L720.2,508.6" stroke-width="2.2" />
<path d="M694.0,517.0 L706.0,511.0" stroke-width="2.6" />
<path d="M650.0,526.0 L655.0,520.0" stroke-width="1.4" />
<path d="M660.0,533.0 L645.0,540.0" stroke-width="1.4" />
<path d="M675.8,504.4 L700.0,505.5 L711.9,505.5" stroke-width="1.8" />
<path d="M572.2,583.0 L610.7,581.0 L609.5,588.0 L572.2,589.4 Z" stroke-width="1.8" />
<path d="M640.7,579.0 L701.5,572.0 L701.5,576.5 L640.7,583.0 Z" stroke-width="1.8" />
<line x1="735.5" y1="588.4" x2="714" y2="567.9" stroke-width="1.7" />
<ellipse cx="833.2" cy="389.6" rx="6.6" ry="7.3" stroke-width="1.8" fill="#262626"/>
<ellipse cx="833.5" cy="392.5" rx="4.5" ry="3" stroke-width="1.0" fill="#555"/>
<line x1="841.2" y1="388.7" x2="876.9" y2="388.7" stroke-width="1.7" />
<ellipse cx="833.5" cy="407.4" rx="7.8" ry="5" stroke-width="2.2" fill="none"/>
<ellipse cx="833.5" cy="407.6" rx="3.8" ry="2.2" stroke-width="2.2" fill="#262626"/>
<line x1="843" y1="408.3" x2="876.9" y2="411.9" stroke-width="1.7" />
<ellipse cx="833.5" cy="424.4" rx="8.8" ry="5" stroke-width="2.0" fill="none"/>
<ellipse cx="833.5" cy="424.4" rx="5.2" ry="2.2" stroke-width="1.6" fill="none"/>
<line x1="843" y1="427.9" x2="876.9" y2="434.2" stroke-width="1.7" />
<path d="M743.2,393.2 L812.7,433.3 L825.0,434.0 L834.0,436.0 L840.0,440.0" stroke-width="1.8" />
<path d="M728.0,400.3 L803.8,443.1 L812.0,443.5 L822.0,444.0" stroke-width="2.2" />
<path d="M743.2,393.2 L735.0,392.5 L728.0,394.0 L727.0,398.0 L728.0,400.3" stroke-width="2.0" />
<ellipse cx="733.5" cy="396" rx="4" ry="2.2" stroke-width="1.5" fill="none"/>
<line x1="731" y1="401" x2="803" y2="442" stroke-width="1.2" />
<ellipse cx="832.3" cy="443.1" rx="8.6" ry="6.2" stroke-width="2.0" fill="none"/>
<ellipse cx="832.5" cy="443" rx="4.6" ry="2.8" stroke-width="1.8" fill="none"/>
<line x1="843" y1="445.8" x2="875.1" y2="460" stroke-width="1.7" />
<path d="M827.5,457.0 L827.5,464.0 L832.7,466.0 L838.0,464.0 L838.0,457.0 L832.7,455.5 Z" stroke="none" fill="#1e1e1e"/>
<ellipse cx="832.7" cy="457.5" rx="5" ry="2.3" stroke-width="1.4" fill="none"/>
<ellipse cx="832.7" cy="469.3" rx="8" ry="5.6" stroke-width="1.5" fill="#1e1e1e"/>
<line x1="828.5" y1="472" x2="836.5" y2="461" stroke-width="1.6" stroke="#fff"/>
<line x1="829" y1="458" x2="836" y2="458" stroke-width="0.9" stroke="#fff"/>
<line x1="841.2" y1="468.9" x2="875.1" y2="482.3" stroke-width="1.7" />
<path d="M831.5,481.0 L831.5,492.0 L836.5,492.0 L836.5,481.0" stroke-width="1.6" />
<path d="M831.5,483.0 L831.5,492.0 L836.5,492.0 L836.5,483.0 Z" stroke="none" fill="#1e1e1e"/>
<ellipse cx="834" cy="484.5" rx="0.8" ry="0.7" stroke-width="0.1" fill="#fff"/>
<ellipse cx="834" cy="487.5" rx="0.8" ry="0.7" stroke-width="0.1" fill="#fff"/>
<ellipse cx="834" cy="490.5" rx="0.8" ry="0.7" stroke-width="0.1" fill="#fff"/>
<ellipse cx="834" cy="493.5" rx="6.8" ry="3.8" stroke-width="1.8" fill="none"/>
<path d="M829.0,496.0 L800.0,517.0" stroke-width="1.8" />
<path d="M839.0,497.0 L806.0,522.0 L803.0,526.0" stroke-width="2.2" />
<ellipse cx="797.7" cy="522.7" rx="9" ry="5.5" stroke-width="1.9" fill="none"/>
<ellipse cx="797.5" cy="520.5" rx="3.8" ry="2.4" stroke-width="1.6" fill="none"/>
<path d="M795.2,528.0 L795.7,600.0 L797.0,700.0 L797.7,764.0 L801.5,766.0 L805.7,764.0 L805.7,700.0 L805.7,528.0" stroke-width="1.7" />
<line x1="803.5" y1="532" x2="803.5" y2="760" stroke-width="2.2" />
<line x1="798" y1="534" x2="798" y2="700" stroke-width="0.9" />
<line x1="797.5" y1="742" x2="805.5" y2="742.8" stroke-width="1.3" />
<line x1="797.5" y1="744" x2="805.5" y2="744.8" stroke-width="1.3" />
<line x1="797.5" y1="746" x2="805.5" y2="746.8" stroke-width="1.3" />
<line x1="797.5" y1="748" x2="805.5" y2="748.8" stroke-width="1.3" />
<line x1="797.5" y1="750" x2="805.5" y2="750.8" stroke-width="1.3" />
<line x1="797.5" y1="752" x2="805.5" y2="752.8" stroke-width="1.3" />
<line x1="797.5" y1="754" x2="805.5" y2="754.8" stroke-width="1.3" />
<line x1="797.5" y1="756" x2="805.5" y2="756.8" stroke-width="1.3" />
<line x1="797.5" y1="758" x2="805.5" y2="758.8" stroke-width="1.3" />
<line x1="797.5" y1="760" x2="805.5" y2="760.8" stroke-width="1.3" />
<line x1="797.5" y1="762" x2="805.5" y2="762.8" stroke-width="1.3" />
<line x1="797.5" y1="764" x2="805.5" y2="764.8" stroke-width="1.3" />
<line x1="807.8" y1="630.6" x2="873" y2="630.6" stroke-width="1.7" />
<path d="M740.0,491.3 L770.1,506.3 L771.4,515.0 L772.6,776.1 L801.5,791.2" stroke-width="1.3" stroke-dasharray="9 5"/>
<path d="M801.5,768.6 L801.5,791.2" stroke-width="1.3" stroke-dasharray="9 5"/>
<path d="M623.0,592.8 L655.0,592.8 L655.5,638.8 L623.0,638.8 Z" stroke-width="1.8" />
<path d="M632.5,604.0 L632.5,622.0 L642.3,622.0 L642.3,604.0" stroke-width="1.8" />
<ellipse cx="637.4" cy="604" rx="4.9" ry="2.6" stroke-width="1.8" fill="#262626"/>
<path d="M629.0,624.0 L631.0,628.0 L637.5,629.5 L644.0,628.0 L646.0,624.0 L642.5,621.0" stroke-width="1.8" />
<line x1="590" y1="622.3" x2="621.9" y2="622.3" stroke-width="1.7" />
<path d="M660.0,615.5 C661.3,615.8 665.3,616.8 668.0,617.5 C670.7,618.2 673.3,619.1 676.0,620.0 C678.7,620.9 682.8,622.2 684.1,622.6" stroke-width="1.8" />
<path d="M660.0,615.5 C659.9,616.6 659.4,619.6 659.5,622.0 C659.6,624.4 660.0,627.8 660.9,629.7 C661.8,631.6 663.2,632.6 665.0,633.5 C666.8,634.4 669.4,634.9 671.6,635.1 C673.8,635.3 676.2,635.1 678.0,634.5 C679.8,633.9 681.3,633.5 682.3,631.5 C683.3,629.5 683.8,624.1 684.1,622.6" stroke-width="1.8" />
<path d="M662.0,618.0 L662.0,628.0" stroke-width="1.3" />
<path d="M672.5,610.0 L672.5,621.0" stroke-width="1.8" />
<path d="M681.5,610.0 L681.5,623.0" stroke-width="1.8" />
<ellipse cx="677" cy="609.5" rx="4.6" ry="2.5" stroke-width="2.0" fill="#1e1e1e"/>
<path d="M682.0,618.0 L686.5,623.0 L682.5,626.0 Z" stroke="none" fill="#1e1e1e"/>
<path d="M664.0,614.0 L672.0,613.0" stroke-width="1.2" />
<line x1="685.9" y1="623.3" x2="735.4" y2="622.3" stroke-width="1.7" />
<ellipse cx="674.6" cy="649.5" rx="12" ry="6.8" stroke-width="1.8" fill="none"/>
<path d="M662.6,649.5 L662.6,654.0 L667.0,659.0 L675.0,660.5 L682.0,659.0 L686.6,654.0 L686.6,649.5" stroke-width="1.8" />
<ellipse cx="675" cy="649" rx="3" ry="1.3" stroke-width="1.3" fill="none"/>
<line x1="688" y1="650.2" x2="735.4" y2="648.1" stroke-width="1.7" />
<path d="M303.7,645.9 L313.4,633.7 L320.7,626.3 L328.0,620.2 L335.4,615.4 L331.7,610.5 L330.5,604.4 L335.4,602.6 L342.7,602.6 L346.3,605.6 L356.1,603.8 L365.9,597.1 L375.6,593.4 L395.1,588.5 L409.8,585.5 L416.0,586.5 L434.4,600.0 L533.2,654.9 L534.4,657.3 L524.6,673.2 L525.9,679.3 L519.8,685.4 L514.9,697.6 L502.7,700.0 L485.6,702.4 L468.5,703.7 L456.3,709.8 L434.4,715.9 L428.3,718.3 L424.6,717.1 L410.0,709.8 L373.2,687.3 L304.9,649.5 Z" stroke-width="1.7" />
<ellipse cx="339" cy="606.8" rx="3.8" ry="2.4" stroke-width="1.5" fill="none"/>
<ellipse cx="378" cy="598.9" rx="3.8" ry="2.4" stroke-width="1.5" fill="none"/>
<ellipse cx="406.7" cy="591" rx="3.8" ry="2.4" stroke-width="1.5" fill="none"/>
<ellipse cx="387.8" cy="612.3" rx="3.8" ry="2.4" stroke-width="1.5" fill="none"/>
<ellipse cx="325.6" cy="628.8" rx="3.8" ry="2.4" stroke-width="1.5" fill="none"/>
<ellipse cx="312.2" cy="646.5" rx="3.8" ry="2.4" stroke-width="1.5" fill="none"/>
<ellipse cx="328" cy="655.6" rx="3.8" ry="2.4" stroke-width="1.5" fill="none"/>
<ellipse cx="359.8" cy="642.8" rx="3.8" ry="2.4" stroke-width="1.5" fill="none"/>
<ellipse cx="364.6" cy="675.7" rx="3.8" ry="2.4" stroke-width="1.5" fill="none"/>
<ellipse cx="423.2" cy="626.2" rx="3.8" ry="2.4" stroke-width="1.5" fill="none"/>
<ellipse cx="421.3" cy="663.5" rx="3.8" ry="2.4" stroke-width="1.5" fill="none"/>
<ellipse cx="414.6" cy="684.9" rx="3.8" ry="2.4" stroke-width="1.5" fill="none"/>
<ellipse cx="458.8" cy="619.5" rx="3.8" ry="2.4" stroke-width="1.5" fill="none"/>
<ellipse cx="499.6" cy="642.7" rx="3.8" ry="2.4" stroke-width="1.5" fill="none"/>
<ellipse cx="514.9" cy="651.2" rx="3.8" ry="2.4" stroke-width="1.5" fill="none"/>
<ellipse cx="476.5" cy="667.1" rx="3.8" ry="2.4" stroke-width="1.5" fill="none"/>
<ellipse cx="517.3" cy="679.3" rx="3.8" ry="2.4" stroke-width="1.5" fill="none"/>
<ellipse cx="452.1" cy="680.5" rx="3.8" ry="2.4" stroke-width="1.5" fill="none"/>
<ellipse cx="472.2" cy="704.9" rx="3.8" ry="2.4" stroke-width="1.5" fill="none"/>
<ellipse cx="420.4" cy="707.3" rx="3.8" ry="2.4" stroke-width="1.5" fill="none"/>
<ellipse cx="449" cy="646.3" rx="3.8" ry="2.4" stroke-width="1.5" fill="none"/>
<path d="M343.2,622.3 L367.9,610.7 L372.3,613.0 L371.4,615.9 L348.2,626.7 L344.1,625.8 Z" stroke-width="1.5" />
<path d="M341.2,639.2 L383.1,618.9 L386.8,620.0 L387.7,622.9 L346.1,644.1 L342.4,643.3 Z" stroke-width="1.5" />
<path d="M318.5,629.6 L327.2,627.0 L336.0,628.2 L342.4,631.6 L349.9,636.3 L345.3,641.2 L341.2,645.0 L339.4,651.4 L327.2,652.0 L321.4,651.4 L317.3,646.2 L317.9,636.9 Z" stroke-width="1.5" />
<path d="M379.0,601.4 L385.4,595.0 L397.0,594.4 L403.4,597.9 L425.5,599.1 L399.3,616.5 L394.7,612.5 L386.8,610.7 L380.2,606.6 Z" stroke-width="1.5" />
<path d="M372.3,637.5 L391.2,628.2 L410.1,620.0 L415.3,622.9 L415.9,629.6 L426.1,636.3 L414.5,642.7 L410.1,647.9 L399.3,652.9 L388.3,650.8 L375.2,644.1 Z" stroke-width="1.5" />
<path d="M354.0,649.1 L370.3,646.2 L385.4,651.4 L402.8,657.2 L414.5,662.5 L418.0,667.4 L407.2,666.5 L394.1,662.5 L373.8,654.9 L356.3,653.5 Z" stroke-width="1.5" />
<path d="M413.7,650.0 L428.3,641.5 L444.1,648.8 L471.0,672.0 L469.8,676.8 L456.3,678.0 L413.7,651.2 Z" stroke-width="1.5" />
<path d="M455.8,639.8 L461.6,631.6 L473.2,628.2 L484.8,632.5 L493.6,641.2 L509.8,647.9 L515.7,653.7 L513.3,657.8 L490.7,668.9 L473.2,663.6 L458.7,652.0 Z" stroke-width="1.5" />
<path d="M383.1,682.0 L397.0,677.6 L414.5,681.1 L423.2,686.9 L426.7,697.9 L418.0,701.4 L403.4,695.6 L386.0,689.8 Z" stroke-width="1.5" />
<path d="M401.7,675.3 L414.5,672.4 L429.0,674.7 L443.5,678.2 L449.9,685.7 L445.0,689.8 L432.5,685.1 L420.3,684.0 L408.7,679.9 Z" stroke-width="1.6" />
<path d="M413.9,686.9 L426.1,685.7 L440.6,689.2 L455.2,686.9 L458.7,688.6 L443.5,694.5 L426.1,693.6 L415.9,690.7 Z" stroke-width="1.6" />
<path d="M432.5,712.5 L524.4,657.2 L528.5,659.6 L435.4,715.4 Z" stroke-width="1.5" />
<path d="M412.1,616.5 L422.6,613.6 L432.5,614.2 L434.2,616.5 L426.1,617.4 L418.0,618.9 Z" stroke-width="2.2" />
<path d="M429.6,621.8 L433.1,621.2 L434.2,628.2 L440.6,631.6 L443.5,622.9 L447.0,624.7 L449.9,639.2 L442.1,638.6 L435.4,635.4 L430.5,629.6 Z" stroke-width="1.5" />
<path d="M417.4,623.8 L423.2,623.2 L426.1,627.6 L428.4,634.6 L423.2,635.4 L419.7,629.6 Z" stroke-width="1.5" />
<line x1="270.5" y1="597.6" x2="330.1" y2="604.3" stroke-width="1.7" />
<path d="M494.4,566.2 L573.7,610.1" stroke-width="1.3" stroke-dasharray="9 5"/>
<path d="M573.7,593.7 L573.7,610.0" stroke-width="1.3" stroke-dasharray="9 5"/>
<path d="M341.8,772.0 L342.0,782.0 L345.5,789.0 L353.0,793.5 L373.3,795.0 L374.0,796.0 L387.5,800.5 L398.0,803.5 L399.5,811.0 L398.0,814.0 L401.0,818.6 L411.5,823.0 L414.5,827.6 L433.8,830.9 L442.2,832.6 L452.4,829.2 L470.0,819.0 L485.3,810.6 L486.1,798.8 L483.6,796.3 L474.3,795.4 L461.7,781.9 L460.0,776.0 L459.1,765.9 L454.0,763.3 L453.2,754.9 L447.3,746.4 L435.5,741.4 L413.5,742.2 L408.0,747.0 L403.3,750.0 L400.3,749.3 L399.5,745.5 L396.5,740.3 L384.5,741.0 L365.8,753.0 L349.3,764.3 Z" stroke-width="2.1" />
<path d="M345.0,772.5 L351.0,766.0 L367.0,755.5 L385.0,744.5 L395.0,744.0" stroke-width="1.5" />
<path d="M346.0,777.0 L346.0,783.0 L350.0,788.0 L356.0,790.5 L373.0,791.5" stroke-width="1.6" />
<path d="M355.3,773.3 L390.5,753.0 L393.5,754.5 L358.0,775.5 Z" stroke-width="1.7" />
<path d="M360.0,772.0 L388.0,756.0" stroke-width="1.0" />
<ellipse cx="360.5" cy="775" rx="4.2" ry="3" stroke-width="2.4" fill="none"/>
<ellipse cx="360.5" cy="775" rx="1.5" ry="1.2" stroke-width="1.2" fill="#1e1e1e"/>
<path d="M374.8,769.5 L388.0,763.0 L400.0,758.0 L410.0,757.0 L420.0,760.0 L429.0,768.0 L418.0,776.0 L407.0,784.0 L400.0,781.0 L386.0,776.0 Z" stroke-width="1.9" />
<path d="M374.8,769.5 L379.0,766.0 L382.0,771.0 Z" stroke="none" fill="#1e1e1e"/>
<path d="M403.0,762.0 L408.0,761.5 L413.0,770.0 L409.0,772.0 Z" stroke-width="2.2" />
<line x1="400" y1="768" x2="400" y2="782" stroke-width="2.0" />
<path d="M375.5,784.5 L387.0,788.0 L400.3,790.5 L410.0,795.0 L424.0,804.0 L434.0,812.0" stroke-width="1.8" />
<path d="M376.0,790.0 L388.0,794.0 L398.0,797.0" stroke-width="1.3" />
<path d="M414.0,745.0 L436.0,744.5 L446.0,749.0 L451.0,756.0 L451.0,763.0" stroke-width="1.5" />
<path d="M420.0,756.0 L428.0,752.0 L436.0,755.0 L442.0,762.0 L446.0,772.0 L440.0,775.0 L432.0,768.0 L424.0,762.0" stroke-width="2.6" />
<path d="M436.0,752.0 L444.0,757.0 L448.0,766.0" stroke-width="2.2" />
<path d="M416.0,781.9 L431.3,772.6 L455.0,786.0 L473.5,802.2 L465.0,808.0 L452.4,812.0 L430.0,797.0 Z" stroke-width="1.8" />
<path d="M427.0,787.0 L433.0,783.0 L472.0,805.0 L466.0,810.0 Z" stroke-width="1.5" />
<line x1="435.5" y1="785.5" x2="466" y2="804" stroke-width="2.8" />
<ellipse cx="425.3" cy="796.3" rx="4.2" ry="3" stroke-width="1.6" fill="#1e1e1e"/>
<ellipse cx="454" cy="778.5" rx="4.2" ry="3" stroke-width="1.6" fill="#1e1e1e"/>
<ellipse cx="478.5" cy="799.7" rx="4.4" ry="3" stroke-width="1.6" fill="#1e1e1e"/>
<ellipse cx="454.9" cy="812.3" rx="4" ry="2.6" stroke-width="1.8" fill="none"/>
<ellipse cx="417.7" cy="819.1" rx="4.4" ry="3.2" stroke-width="2.4" fill="none"/>
<ellipse cx="417.7" cy="819.1" rx="1.5" ry="1.2" stroke-width="1.2" fill="#1e1e1e"/>
<ellipse cx="392" cy="744.3" rx="3.5" ry="2.6" stroke-width="1.6" fill="#1e1e1e"/>
<path d="M411.0,825.0 L425.0,829.0 L440.5,831.7" stroke-width="1.5" />
<path d="M440.5,831.7 L460.0,823.0 L484.5,810.6" stroke-width="1.5" />
<line x1="436" y1="820" x2="436" y2="832" stroke-width="2.4" />
<line x1="422" y1="812" x2="422" y2="826" stroke-width="1.5" />
<line x1="272.8" y1="771.2" x2="339.8" y2="769.9" stroke-width="1.7" />
<path d="M354.9,837.0 L364.1,837.0 L366.3,835.5 L366.6,831.4 L367.2,830.1 L367.2,827.0 L365.1,824.5 L353.9,824.5 L351.8,827.0 L351.8,830.1 L352.4,831.4 L352.7,835.5 Z" stroke-width="1.9"/>
<path d="M352.4,831.4 L366.6,831.4" stroke-width="1.4"/>
<path d="M357.2,836.8 L356.9,831.5 M361.8,836.8 L362.1,831.5" stroke-width="1.1"/>
<path d="M352.5,828.0 L366.5,828.0" stroke-width="1.0"/>
<path d="M355.5,824.5 L355.5,800.5 L357.0,799.5 L362.0,799.5 L363.5,800.5 L363.5,824.5" stroke-width="1.8"/>
<path d="M355.5,824.0 L363.5,823.4" stroke-width="1.4"/>
<path d="M355.5,821.2 L363.5,820.6" stroke-width="1.4"/>
<path d="M355.5,818.4 L363.5,817.8" stroke-width="1.4"/>
<path d="M355.5,815.6 L363.5,815.0" stroke-width="1.4"/>
<path d="M355.5,812.8 L363.5,812.2" stroke-width="1.4"/>
<path d="M355.5,810.0 L363.5,809.4" stroke-width="1.4"/>
<path d="M355.5,807.2 L363.5,806.6" stroke-width="1.4"/>
<path d="M355.5,804.4 L363.5,803.8" stroke-width="1.4"/>
<path d="M355.5,801.6 L363.5,801.0" stroke-width="1.4"/>
<line x1="274.1" y1="813.2" x2="353" y2="812" stroke-width="1.7" />
<path d="M374.0,796.0 L373.5,820.0 L372.7,857.7 L368.0,865.2 L368.0,1014.0 L370.8,1018.7 L408.5,1044.1 L421.7,1046.0 L433.0,1041.3 L468.8,1019.6 L470.7,1008.3 L449.9,835.1" stroke-width="1.9" />
<line x1="374.5" y1="800" x2="375.5" y2="857" stroke-width="1.2" />
<line x1="369.5" y1="868" x2="369.5" y2="1010" stroke-width="1.0" />
<path d="M397.2,823.8 L397.2,876.5 L408.5,961.2 L417.9,1044.1" stroke-width="1.5" />
<path d="M399.0,825.0 L399.5,870.0 L410.4,965.0" stroke-width="2.4" />
<path d="M446.2,835.1 L466.9,1006.4" stroke-width="1.3" />
<path d="M443.0,840.0 L462.0,1000.0" stroke-width="0.9" />
<path d="M418.0,829.4 L426.4,889.7 L440.5,837.0" stroke-width="1.6" />
<path d="M422.0,832.0 L427.5,885.0 L437.0,838.0" stroke-width="1.0" />
<path d="M410.4,980.0 L423.6,1044.1" stroke-width="1.3" />
<path d="M412.5,978.0 L419.0,1041.0" stroke-width="0.9" />
<line x1="407" y1="1000" x2="408" y2="1044" stroke-width="1.0" stroke-dasharray="3 3"/>
<path d="M367.4,1071.4 C368.5,1069.3 368.7,1069.0 371.9,1066.9 C375.1,1064.8 380.5,1060.8 386.5,1059.0 C392.5,1057.2 403.0,1056.2 407.9,1056.2 C412.8,1056.2 407.4,1055.7 415.8,1059.0 C424.2,1062.3 450.4,1072.0 458.6,1075.9 C466.9,1079.8 464.0,1079.0 465.3,1082.6 C466.6,1086.2 467.1,1093.3 466.4,1097.3 C465.6,1101.2 467.7,1101.4 460.8,1106.3 C453.9,1111.2 433.1,1123.0 424.8,1126.6 C416.6,1130.2 414.9,1127.9 411.3,1127.7 C407.7,1127.5 411.1,1130.5 403.4,1125.4 C395.7,1120.3 371.7,1103.5 365.1,1097.3 C358.5,1091.1 364.0,1091.3 364.0,1088.3 C364.0,1085.3 364.5,1082.1 365.1,1079.3 C365.7,1076.5 366.3,1073.5 367.4,1071.4 Z" stroke-width="2.0" />
<path d="M371.9,1078.1 C374.7,1075.2 382.8,1071.6 388.8,1069.7 C394.8,1067.8 402.3,1066.4 407.9,1066.9 C413.5,1067.4 414.1,1068.8 422.5,1072.5 C430.9,1076.2 452.0,1086.0 458.6,1089.4 C465.2,1092.8 462.3,1091.5 461.9,1092.8 C461.5,1094.1 463.2,1093.7 456.3,1097.3 C449.4,1100.9 429.3,1111.2 420.3,1114.2 C411.3,1117.2 407.6,1116.8 402.3,1115.3 C397.1,1113.8 393.9,1109.9 388.8,1105.2 C383.7,1100.5 374.7,1091.6 371.9,1087.1 C369.1,1082.6 369.1,1081.0 371.9,1078.1 Z" stroke-width="2.0" />
<path d="M379.8,1095.0 C381.3,1096.5 384.9,1100.7 388.8,1104.0 C392.7,1107.3 398.1,1113.2 403.4,1114.7 C408.6,1116.2 411.5,1116.3 420.3,1113.0 C429.1,1109.7 449.6,1098.5 456.3,1095.0 C463.1,1091.5 460.1,1092.2 460.8,1091.7" stroke-width="2.8" />
<path d="M365.1,1088.8 C367.2,1090.2 371.1,1092.5 377.5,1097.3 C383.9,1102.1 395.5,1114.5 403.4,1117.5 C411.3,1120.5 414.7,1119.0 424.8,1115.3 C434.9,1111.5 457.6,1098.4 464.2,1095.0" stroke-width="1.5" />
<path d="M371.9,1074.8 C374.9,1073.1 383.9,1066.7 389.9,1064.6 C395.9,1062.5 404.9,1062.8 407.9,1062.4" stroke-width="1.5" />
<path d="M379.8,1093.9 L421.4,1072.5" stroke-width="2.6" />
<path d="M383.1,1098.4 L423.7,1077.0" stroke-width="2.2" />
<path d="M422.5,1073.6 L457.4,1090.5" stroke-width="1.5" />
<path d="M369.6,1075.9 L369.6,1087.1" stroke-width="1.4" />
<path d="M389.9,1063.5 L389.9,1069.1" stroke-width="1.2" />
<path d="M407.9,1061.3 L407.9,1066.9" stroke-width="1.2" />
<line x1="411.3" y1="1119.8" x2="411.3" y2="1124.3" stroke-width="1.2" />
<line x1="291.9" y1="1071.9" x2="365" y2="1071.9" stroke-width="1.7" />
<path d="M543.4,871.0 L545.2,868.7 L551.5,867.5 L557.5,868.7 L559.7,871.0" stroke-width="1.9" />
<line x1="543.4" y1="871" x2="545.2" y2="1101" stroke-width="1.8" />
<line x1="559.7" y1="871" x2="562" y2="1101" stroke-width="1.8" />
<path d="M545.2,1101.0 L548.0,1104.0 L553.5,1105.0 L559.0,1104.0 L562.0,1101.0" stroke-width="1.9" />
<line x1="545.5" y1="876" x2="559" y2="876" stroke-width="1.4" />
<line x1="552" y1="869" x2="552" y2="876" stroke-width="1.0" />
<line x1="556.5" y1="910" x2="557" y2="1050" stroke-width="1.6" />
<line x1="554.5" y1="920" x2="554.5" y2="1000" stroke-width="1.0" />
<line x1="564" y1="1025" x2="614.6" y2="1025" stroke-width="1.7" />
<ellipse cx="554.6" cy="1122" rx="10" ry="5" stroke-width="2.6" fill="none"/>
<ellipse cx="554.6" cy="1121.5" rx="5.5" ry="2.6" stroke-width="2.0" fill="none"/>
<path d="M545.0,1122.0 L545.0,1137.0 L548.0,1141.0 L555.0,1142.7 L562.0,1141.0 L565.0,1137.0 L565.0,1122.0" stroke-width="2.6" />
<path d="M545.0,1127.0 L554.6,1130.0 L565.0,1127.0" stroke-width="2.0" />
<path d="M545.0,1131.0 L554.6,1134.0 L565.0,1131.0" stroke-width="2.0" />
<path d="M545.0,1135.0 L554.6,1138.0 L565.0,1135.0" stroke-width="2.0" />
<line x1="567.7" y1="1124.5" x2="618.3" y2="1124.5" stroke-width="1.7" />
<path d="M542.5,814.5 L545.0,810.5 L551.0,809.2 L557.0,810.5 L560.6,814.5 L557.0,818.5 L551.0,819.8 L545.0,818.5 Z" stroke-width="2.2" />
<ellipse cx="551.3" cy="814.5" rx="4.2" ry="2.4" stroke-width="2.4" fill="#1e1e1e"/>
<path d="M542.5,815.0 L542.5,823.0 L546.0,827.0 L551.0,828.2 L556.0,827.0 L560.6,823.0 L560.6,815.0" stroke-width="2.4" />
<line x1="547" y1="819" x2="547" y2="827" stroke-width="1.3" />
<line x1="555" y1="819" x2="555" y2="827" stroke-width="1.3" />
<line x1="559.7" y1="817" x2="609.8" y2="809.2" stroke-width="1.7" />
<path d="M537.0,843.0 L540.0,836.5 L548.0,833.5 L560.0,834.0 L567.0,834.0 L573.0,836.0 L575.0,841.0 L573.0,847.0 L567.0,850.0 L562.0,853.0 L556.0,858.0 L548.0,863.0 L540.0,863.6 L537.0,860.0 L536.4,852.0 Z" stroke-width="2.6" />
<ellipse cx="550" cy="843.5" rx="8" ry="4.8" stroke-width="2.6" fill="none"/>
<ellipse cx="550" cy="843.5" rx="4.5" ry="2.4" stroke-width="2.0" fill="none"/>
<ellipse cx="567.5" cy="838.5" rx="2.5" ry="1.8" stroke-width="1.5" fill="none"/>
<path d="M537.0,852.0 L545.0,856.0 L556.0,854.0 L566.0,848.0" stroke-width="2.0" />
<path d="M539.0,856.0 L546.0,857.0 L560.0,852.0" stroke-width="1.4" />
<line x1="540" y1="862.5" x2="550" y2="861" stroke-width="2.2" />
<line x1="575" y1="838" x2="575" y2="846" stroke-width="2.0" />
<line x1="575.3" y1="844.6" x2="608.1" y2="844.6" stroke-width="1.7" />
<path d="M579.8,938.0 L589.0,938.0 L591.2,936.6 L591.5,932.6 L592.1,931.4 L592.1,928.4 L590.0,926.0 L578.8,926.0 L576.6,928.4 L576.6,931.4 L577.3,932.6 L577.6,936.6 Z" stroke-width="1.9"/>
<path d="M577.3,932.6 L591.5,932.6" stroke-width="1.4"/>
<path d="M582.1,937.8 L581.8,932.7 M586.7,937.8 L587.0,932.7" stroke-width="1.1"/>
<path d="M577.4,929.4 L591.4,929.4" stroke-width="1.0"/>
<path d="M580.4,926.0 L580.4,897.0 L581.9,896.0 L586.9,896.0 L588.4,897.0 L588.4,926.0" stroke-width="1.8"/>
<path d="M580.4,916.0 L588.4,915.4" stroke-width="1.4"/>
<path d="M580.4,913.2 L588.4,912.6" stroke-width="1.4"/>
<path d="M580.4,910.4 L588.4,909.8" stroke-width="1.4"/>
<path d="M580.4,907.6 L588.4,907.0" stroke-width="1.4"/>
<path d="M580.4,904.8 L588.4,904.2" stroke-width="1.4"/>
<path d="M580.4,902.0 L588.4,901.4" stroke-width="1.4"/>
<path d="M580.4,899.2 L588.4,898.6" stroke-width="1.4"/>
<line x1="592.5" y1="936" x2="613.3" y2="956.8" stroke-width="1.7" />
<path d="M567.5,853.2 L568.4,867.0 L583.0,879.1 L583.0,892.0" stroke-width="1.3" stroke-dasharray="9 5"/>
<path d="M516.3,850.6 L516.3,774.7 L565.8,800.6 L565.8,832.5" stroke-width="1.3" stroke-dasharray="9 5"/>
<path d="M480.4,817.0 L480.4,829.0 L516.3,850.6" stroke-width="1.3" stroke-dasharray="9 5"/>
<line x1="424.4" y1="464" x2="424.4" y2="484" stroke-width="1.5" />
<line x1="432.8" y1="467" x2="432.8" y2="489" stroke-width="2.4" />
<line x1="476.6" y1="443.5" x2="476.6" y2="481" stroke-width="1.5" />
<line x1="479.5" y1="455" x2="479.5" y2="467" stroke-width="2.0" />
<line x1="492.5" y1="451" x2="492.5" y2="489" stroke-width="1.4" />
<path d="M479.7,481.9 L491.0,487.5" stroke-width="2.2" />
<line x1="454.4" y1="435" x2="454.4" y2="448" stroke-width="1.4" />
<ellipse cx="458.5" cy="431" rx="3.5" ry="2.4" stroke-width="1.6" fill="none"/>
<rect x="254.8" y="879.8" width="1.4" height="1.4" fill="#1e1e1e" stroke="none"/>
<line x1="412" y1="72.5" x2="412" y2="78" stroke-width="1.2" />
<line x1="409.5" y1="75.2" x2="414.5" y2="75.2" stroke-width="1.2" />
<line x1="375.4" y1="78.5" x2="375.4" y2="85" stroke-width="1.2" />
<line x1="567.6" y1="197.5" x2="567.6" y2="203" stroke-width="1.2" />
<line x1="565" y1="200" x2="570" y2="200" stroke-width="1.2" />
<line x1="595.5" y1="180.5" x2="595.5" y2="186.5" stroke-width="1.5" />
<line x1="539.4" y1="133.5" x2="537.5" y2="137.5" stroke-width="1.2" />
<line x1="301.5" y1="139" x2="301.5" y2="145" stroke-width="1.6" />
</g>
</svg>
</body></html>
